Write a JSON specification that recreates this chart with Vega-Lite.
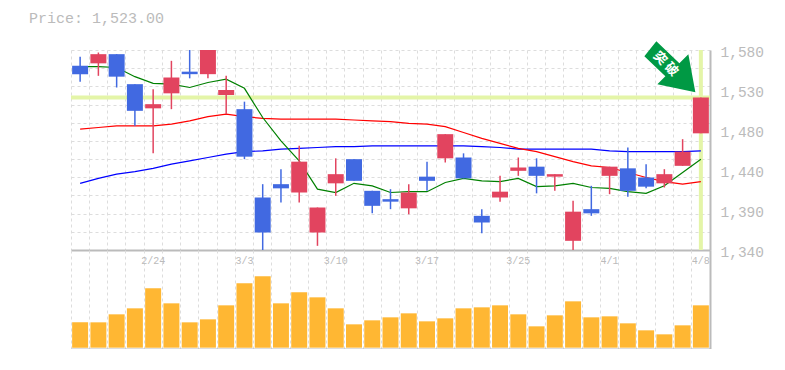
{
"$schema":"https://vega.github.io/schema/vega-lite/v6.json",
"padding":{"left":29,"top":10,"right":0,"bottom":0},
"background":"white",
"title":{"text":"Price: 1,523.00","anchor":"start","frame":"bounds","font":"Liberation Mono","fontSize":15,"fontWeight":"normal","color":"#bbbbbb","offset":15.5,"dx":-40},
"spacing":0,
"bounds":"flush",
"config":{"view":{"stroke":null},"axis":{"gridColor":"#dddddd","gridDash":[3,3],"gridWidth":1,"domainColor":"#bbbbbb","domainWidth":2,"ticks":false,"title":null,"labelFont":"Liberation Mono","labelColor":"#bbbbbb"}},
"datasets":{"candles":[
{"d":"2/18","o":1561,"c":1551,"h":1572,"l":1542,"up":"n","ma5":1560,"ma25":1485,"ma75":1420,"v":76000},
{"d":"2/19","o":1564,"c":1575,"h":1577,"l":1549,"up":"y","ma5":1560,"ma25":1487,"ma75":1426,"v":76000},
{"d":"2/20","o":1575,"c":1548,"h":1575,"l":1535,"up":"n","ma5":1559,"ma25":1489,"ma75":1431,"v":100000},
{"d":"2/21","o":1539,"c":1507,"h":1539,"l":1489,"up":"n","ma5":1548,"ma25":1489,"ma75":1434,"v":118000},
{"d":"2/24","o":1510,"c":1515,"h":1533,"l":1456,"up":"y","ma5":1540,"ma25":1489,"ma75":1438,"v":178000},
{"d":"2/25","o":1528,"c":1547,"h":1567,"l":1509,"up":"y","ma5":1539,"ma25":1491,"ma75":1443,"v":133000},
{"d":"2/26","o":1554,"c":1551,"h":1580,"l":1546,"up":"n","ma5":1535,"ma25":1495,"ma75":1447,"v":76000},
{"d":"2/27","o":1551,"c":1580,"h":1580,"l":1546,"up":"y","ma5":1541,"ma25":1500,"ma75":1451,"v":85000},
{"d":"2/28","o":1526,"c":1532,"h":1549,"l":1503,"up":"y","ma5":1545,"ma25":1503,"ma75":1455,"v":127000},
{"d":"3/3","o":1509,"c":1452,"h":1518,"l":1449,"up":"n","ma5":1534,"ma25":1500,"ma75":1458,"v":193000},
{"d":"3/4","o":1403,"c":1361,"h":1419,"l":1340,"up":"n","ma5":1499,"ma25":1498,"ma75":1459,"v":214000},
{"d":"3/5","o":1419,"c":1414,"h":1437,"l":1397,"up":"n","ma5":1471,"ma25":1497,"ma75":1461,"v":133000},
{"d":"3/6","o":1409,"c":1446,"h":1465,"l":1397,"up":"y","ma5":1447,"ma25":1497,"ma75":1462,"v":166000},
{"d":"3/7","o":1361,"c":1391,"h":1391,"l":1345,"up":"y","ma5":1413,"ma25":1497,"ma75":1463,"v":151000},
{"d":"3/10","o":1420,"c":1431,"h":1450,"l":1405,"up":"y","ma5":1409,"ma25":1497,"ma75":1464,"v":118000},
{"d":"3/11","o":1449,"c":1423,"h":1449,"l":1423,"up":"n","ma5":1420,"ma25":1496,"ma75":1464,"v":70000},
{"d":"3/12","o":1411,"c":1393,"h":1411,"l":1384,"up":"n","ma5":1417,"ma25":1495,"ma75":1465,"v":82000},
{"d":"3/13","o":1401,"c":1398,"h":1413,"l":1389,"up":"n","ma5":1409,"ma25":1494,"ma75":1465,"v":91000},
{"d":"3/14","o":1390,"c":1409,"h":1419,"l":1383,"up":"y","ma5":1410,"ma25":1492,"ma75":1465,"v":103000},
{"d":"3/17","o":1428,"c":1423,"h":1446,"l":1411,"up":"n","ma5":1410,"ma25":1491,"ma75":1465,"v":79000},
{"d":"3/18","o":1450,"c":1479,"h":1479,"l":1445,"up":"y","ma5":1421,"ma25":1488,"ma75":1465,"v":88000},
{"d":"3/19","o":1451,"c":1426,"h":1456,"l":1426,"up":"n","ma5":1426,"ma25":1481,"ma75":1465,"v":118000},
{"d":"3/21","o":1381,"c":1373,"h":1389,"l":1360,"up":"n","ma5":1423,"ma25":1474,"ma75":1464,"v":121000},
{"d":"3/24","o":1403,"c":1410,"h":1429,"l":1398,"up":"y","ma5":1422,"ma25":1468,"ma75":1463,"v":127000},
{"d":"3/25","o":1435,"c":1439,"h":1451,"l":1429,"up":"y","ma5":1426,"ma25":1462,"ma75":1461,"v":100000},
{"d":"3/26","o":1440,"c":1429,"h":1450,"l":1408,"up":"n","ma5":1416,"ma25":1458,"ma75":1461,"v":64000},
{"d":"3/27","o":1428,"c":1431,"h":1431,"l":1411,"up":"y","ma5":1417,"ma25":1452,"ma75":1461,"v":97000},
{"d":"3/28","o":1351,"c":1386,"h":1399,"l":1340,"up":"y","ma5":1420,"ma25":1446,"ma75":1461,"v":139000},
{"d":"3/31","o":1389,"c":1384,"h":1417,"l":1381,"up":"n","ma5":1415,"ma25":1441,"ma75":1461,"v":91000},
{"d":"4/1","o":1429,"c":1440,"h":1440,"l":1407,"up":"y","ma5":1414,"ma25":1439,"ma75":1459,"v":94000},
{"d":"4/2","o":1438,"c":1411,"h":1463,"l":1404,"up":"n","ma5":1410,"ma25":1433,"ma75":1458,"v":73000},
{"d":"4/3","o":1427,"c":1416,"h":1443,"l":1414,"up":"n","ma5":1408,"ma25":1427,"ma75":1458,"v":52000},
{"d":"4/4","o":1420,"c":1431,"h":1437,"l":1415,"up":"y","ma5":1417,"ma25":1422,"ma75":1458,"v":40000},
{"d":"4/7","o":1441,"c":1458,"h":1473,"l":1441,"up":"y","ma5":1433,"ma25":1419,"ma75":1458,"v":67000},
{"d":"4/8","o":1480,"c":1523,"h":1523,"l":1480,"up":"y","ma5":1449,"ma25":1422,"ma75":1459,"v":127000}
]},
"vconcat":[
{"width":639,"height":200,"data":{"name":"candles"},
"resolve":{"axis":{"y":"independent","x":"independent"}},
"layer":[
{"mark":{"type":"rule","color":"#E4F5A8","strokeWidth":4},"data":{"values":[{"price":1523}]},
 "encoding":{"y":{"field":"price","type":"quantitative","scale":{"domain":[1340,1580]},
  "axis":{"orient":"left","domain":false,"labels":false,"grid":true,"values":[1580,1558.2,1536.4,1514.5,1492.7,1470.9,1449.1,1427.3,1405.5,1383.6,1361.8,1340]}}}},
{"mark":{"type":"rule","color":"#E4F5A8","strokeWidth":4},"data":{"values":[{"d":"4/8","a":1580,"b":1340}]},
 "encoding":{"x":{"field":"d","type":"nominal","sort":null,"scale":{"type":"band","paddingInner":0,"paddingOuter":0,"domain":["2/18","2/19","2/20","2/21","2/24","2/25","2/26","2/27","2/28","3/3","3/4","3/5","3/6","3/7","3/10","3/11","3/12","3/13","3/14","3/17","3/18","3/19","3/21","3/24","3/25","3/26","3/27","3/28","3/31","4/1","4/2","4/3","4/4","4/7","4/8"]},"axis":{"bandPosition":0,"grid":true,"labels":false,"domain":true,"orient":"bottom"}},
 "y":{"field":"a","type":"quantitative","axis":{"orient":"right","grid":false,"values":[1580,1532,1484,1436,1388,1340],"labelExpr":"format(round(datum.value/10)*10,',')","labelFontSize":14.5,"labelPadding":10,"labelOffset":2,"labelBound":false,"labelFlush":false,"labelOverlap":false,"domain":true}},"y2":{"field":"b"}}},
{"mark":{"type":"line","color":"#0000FF","strokeWidth":1.2},"encoding":{"x":{"field":"d","type":"nominal","sort":null,"axis":null},"y":{"field":"ma75","type":"quantitative","axis":null}}},
{"mark":{"type":"line","color":"#FF0000","strokeWidth":1.2},"encoding":{"x":{"field":"d","type":"nominal","sort":null,"axis":null},"y":{"field":"ma25","type":"quantitative","axis":null}}},
{"mark":{"type":"line","color":"#008000","strokeWidth":1.2},"encoding":{"x":{"field":"d","type":"nominal","sort":null,"axis":null},"y":{"field":"ma5","type":"quantitative","axis":null}}},
{"mark":{"type":"rule","strokeWidth":1.5},"encoding":{"x":{"field":"d","type":"nominal","sort":null,"axis":null},"y":{"field":"h","type":"quantitative","axis":null},"y2":{"field":"l"},"color":{"field":"up","type":"nominal","legend":null,"scale":{"domain":["y","n"],"range":["#E2445F","#4169E1"]}}}},
{"mark":{"type":"bar","width":{"band":0.875}},"encoding":{"x":{"field":"d","type":"nominal","sort":null,"axis":null},"y":{"field":"o","type":"quantitative","axis":null},"y2":{"field":"c"},"color":{"field":"up","type":"nominal","legend":null}}},
{"mark":{"type":"point","filled":true,"opacity":1,"color":"#009944","stroke":null,"size":4,"shape":"M-8,-23 L-20,-8 L1,12 L-7,20 L31,28 L24,-10 L15,-1 Z"},"data":{"values":[{"d":"4/4","price":1563}]},"encoding":{"x":{"field":"d","type":"nominal","sort":null,"axis":null},"y":{"field":"price","type":"quantitative","axis":null}}},
{"mark":{"type":"text","color":"white","font":"Noto Sans CJK JP","fontSize":13,"fontWeight":"bold","angle":45,"dx":2},"data":{"values":[{"d":"4/4","price":1565,"t":"突 破"}]},"encoding":{"x":{"field":"d","type":"nominal","sort":null,"axis":null},"y":{"field":"price","type":"quantitative","axis":null},"text":{"field":"t"}}}
]},
{"width":639,"height":99,"data":{"name":"candles"},
"layer":[
{"mark":{"type":"bar","color":"#FFB733","width":{"band":0.875}},
 "encoding":{"x":{"field":"d","type":"nominal","sort":null,"scale":{"type":"band","paddingInner":0,"paddingOuter":0},"axis":{"bandPosition":0,"grid":true,"labels":false,"domain":true,"orient":"bottom"}},
 "y":{"field":"v","type":"quantitative","scale":{"domain":[-4000,293000],"zero":false,"nice":false},"axis":{"orient":"right","grid":false,"labels":false,"domain":true}}}},
{"mark":{"type":"text","font":"Liberation Mono","fontSize":10,"color":"#bbbbbb"},"transform":[{"filter":{"field":"d","oneOf":["2/24","3/3","3/10","3/17","3/25","4/1","4/8"]}}],
 "encoding":{"x":{"field":"d","type":"nominal","sort":null},"y":{"datum":258800,"type":"quantitative"},"text":{"field":"d"}}}
]}
]
}
